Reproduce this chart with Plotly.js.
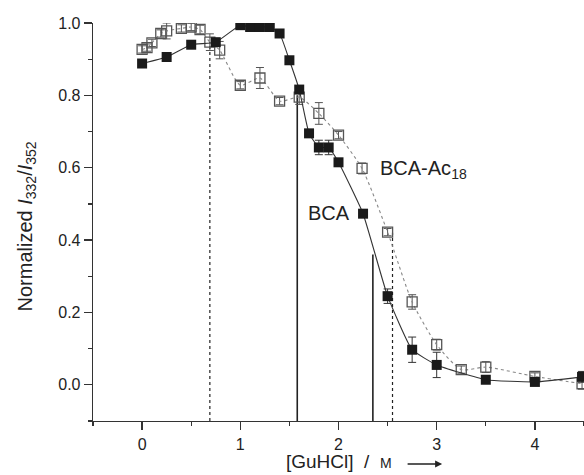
<!DOCTYPE html>
<html>
<head>
<meta charset="utf-8">
<script src="https://cdn.plot.ly/plotly-3.0.1.min.js"></script>
<style>html,body{margin:0;padding:0;background:#fff;}#chart{width:584px;height:475px;}</style>
</head>
<body>
<div id="chart"></div>
<script>
// BCA (filled squares)
const bcaX = [0, 0.25, 0.5, 0.75, 1.0, 1.1, 1.2, 1.3, 1.4, 1.5, 1.6, 1.7, 1.8, 1.9, 2.0, 2.25, 2.5, 2.75, 3.0, 3.5, 4.0, 4.48];
const bcaY = [0.888, 0.906, 0.940, 0.947, 0.994, 0.989, 0.989, 0.989, 0.971, 0.897, 0.816, 0.695, 0.656, 0.656, 0.615, 0.473, 0.245, 0.097, 0.055, 0.014, 0.008, 0.022];
const bcaErr = [0.01, 0.01, 0.01, 0.01, 0.01, 0.01, 0.01, 0.01, 0.01, 0.01, 0.01, 0.01, 0.02, 0.02, 0.01, 0.01, 0.02, 0.035, 0.035, 0.01, 0.01, 0.015];

// BCA-Ac18 (open squares)
const acX = [0, 0.05, 0.1, 0.19, 0.25, 0.4, 0.5, 0.59, 0.69, 0.79, 1.0, 1.2, 1.4, 1.6, 1.8, 2.0, 2.24, 2.5, 2.75, 3.0, 3.25, 3.5, 4.0, 4.48];
const acY = [0.927, 0.932, 0.945, 0.971, 0.978, 0.985, 0.989, 0.982, 0.947, 0.925, 0.828, 0.848, 0.784, 0.795, 0.750, 0.690, 0.598, 0.422, 0.229, 0.111, 0.042, 0.049, 0.023, 0.003];
const acErr = [0.01, 0.01, 0.01, 0.01, 0.022, 0.01, 0.01, 0.012, 0.023, 0.024, 0.01, 0.029, 0.01, 0.02, 0.03, 0.01, 0.015, 0.01, 0.02, 0.015, 0.01, 0.015, 0.01, 0.015];

// Transition midpoints (vertical markers) and their top heights
const bcaMidX = [1.58, 2.35];
const bcaMidTop = [0.80, 0.36];
const acMidX = [0.69, 2.55];
const acMidTop = [0.947, 0.42];

const yMin = -0.1;

const xTicks = [0, 1, 2, 3, 4];
const yTicks = [0.0, 0.2, 0.4, 0.6, 0.8, 1.0];

const traces = [];

// vertical lines
bcaMidX.forEach((x, i) => traces.push({
  x: [x, x], y: [yMin, bcaMidTop[i]], mode: 'lines', type: 'scatter',
  line: {color: '#222', width: 1.6}, hoverinfo: 'skip', showlegend: false, cliponaxis: false
}));
acMidX.forEach((x, i) => traces.push({
  x: [x, x], y: [yMin, acMidTop[i]], mode: 'lines', type: 'scatter',
  line: {color: '#222', width: 1.2, dash: 'dot'}, hoverinfo: 'skip', showlegend: false, cliponaxis: false
}));

traces.push({
  x: acX, y: acY, type: 'scatter', mode: 'lines+markers', name: 'BCA-Ac18',
  line: {color: '#888', width: 1.1, dash: 'dot', shape: 'spline', smoothing: 0.6},
  marker: {symbol: 'square-open', size: 10, color: '#555', line: {width: 1.3, color: '#555'}},
  error_y: {type: 'data', array: acErr, visible: true, color: '#555', thickness: 1, width: 4},
  showlegend: false
});
traces.push({
  x: bcaX, y: bcaY, type: 'scatter', mode: 'lines+markers', name: 'BCA',
  line: {color: '#333', width: 1.1, shape: 'spline', smoothing: 0.4},
  marker: {symbol: 'square', size: 10, color: '#1a1a1a', line: {width: 0}},
  error_y: {type: 'data', array: bcaErr, visible: true, color: '#333', thickness: 1, width: 4},
  showlegend: false
});

const fam = 'Liberation Sans, Arial, sans-serif';

const layout = {
  width: 584, height: 475,
  margin: {l: 93, r: 0, t: 23, b: 54},
  paper_bgcolor: '#fff', plot_bgcolor: '#fff',
  font: {family: fam, size: 16, color: '#222'},
  xaxis: {
    range: [-0.5, 4.5], tickvals: xTicks, ticktext: xTicks.map(String),
    showgrid: false, zeroline: false, showline: true, linecolor: '#333', linewidth: 1.3,
    ticks: 'outside', ticklen: 8, tickwidth: 1.3, tickcolor: '#333',
    minor: {dtick: 0.5, tick0: -0.5, ticks: 'outside', ticklen: 4, tickwidth: 1.3, tickcolor: '#333'},
    tickfont: {family: fam, size: 16, color: '#222'}
  },
  yaxis: {
    range: [yMin, 1.0], tickvals: yTicks, ticktext: yTicks.map(v => v.toFixed(1)),
    showgrid: false, zeroline: false, showline: true, linecolor: '#333', linewidth: 1.3,
    ticks: 'outside', ticklen: 8, tickwidth: 1.3, tickcolor: '#333',
    minor: {dtick: 0.1, tick0: 0, ticks: 'outside', ticklen: 4, tickwidth: 1.3, tickcolor: '#333'},
    tickfont: {family: fam, size: 16, color: '#222'}
  },
  annotations: [
    {xref: 'x', yref: 'y', x: 1.90, y: 0.474, text: 'BCA', showarrow: false,
     font: {family: fam, size: 20, color: '#222'}},
    {xref: 'x', yref: 'y', x: 2.40, y: 0.595, xanchor: 'left', text: 'BCA-Ac<sub>18</sub>', showarrow: false,
     font: {family: fam, size: 20, color: '#222'}},
    {xref: 'paper', yref: 'paper', x: 0.50, y: -0.103, yanchor: 'middle', xanchor: 'center',
     text: '[GuHCl]  /  <span style="font-size:14px">M</span>', showarrow: false,
     font: {family: fam, size: 19, color: '#222'}},
    {xref: 'paper', yref: 'paper', x: 0.711, y: -0.108, ax: -36, ay: 0, text: '',
     showarrow: true, arrowhead: 2, arrowsize: 1, arrowwidth: 1.4, arrowcolor: '#222'},
    {xref: 'paper', yref: 'paper', x: -0.165, y: 0.49, textangle: -90,
     text: 'Normalized <i>I</i><sub>332</sub>/<i>I</i><sub>352</sub>', showarrow: false,
     font: {family: fam, size: 20, color: '#222'}}
  ]
};

Plotly.newPlot('chart', traces, layout, {displayModeBar: false, staticPlot: true});
</script>
</body>
</html>
